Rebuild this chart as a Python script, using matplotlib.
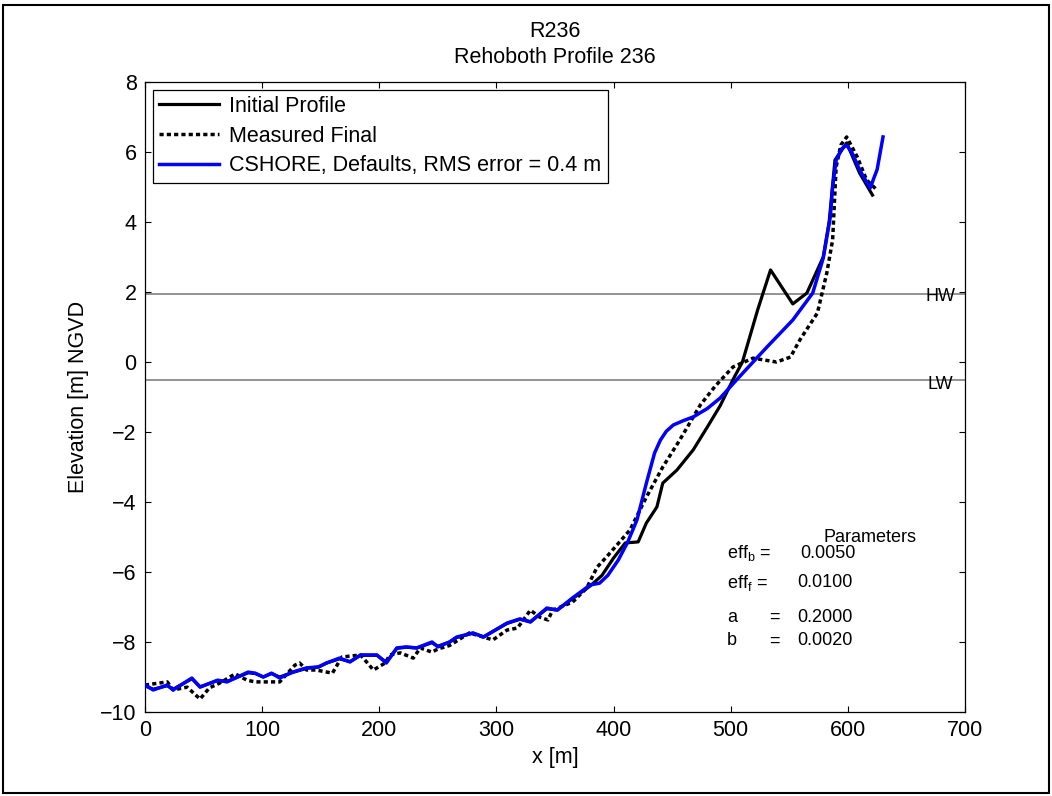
import matplotlib
matplotlib.use("Agg")
import matplotlib.pyplot as plt
from matplotlib.patches import Rectangle

plt.rcParams['font.family'] = ['Liberation Sans', 'DejaVu Sans']

# initial profile (lower part lies under the model line)
x_init = [0, 7, 19, 24, 40, 47, 62, 70, 88, 94, 101, 108, 115, 126, 138, 148, 155, 166, 175, 184,
          198, 206, 215, 223, 232, 245, 250, 260, 266, 280, 289, 309, 320, 329, 343, 352, 365, 380,
          390, 400, 410, 421, 428, 437, 442, 454, 468, 480, 491, 502, 510, 523, 534, 553, 565,
          579, 584, 589, 599, 610, 621]
z_init = [-9.25, -9.35, -9.25, -9.35, -9.05, -9.28, -9.1, -9.13, -8.88, -8.9, -9.0, -8.9, -9.0,
          -8.87, -8.75, -8.72, -8.6, -8.48, -8.56, -8.38, -8.38, -8.58, -8.18, -8.15, -8.17, -8.02,
          -8.12, -8.0, -7.87, -7.75, -7.85, -7.47, -7.35, -7.42, -7.05, -7.08, -6.76, -6.4, -6.1,
          -5.6, -5.17, -5.14, -4.6, -4.14, -3.46, -3.09, -2.51, -1.86, -1.25, -0.5, 0.0, 1.49, 2.63,
          1.66, 1.97, 3.0, 4.0, 5.77, 6.26, 5.4, 4.77]

# measured final profile
x_meas = [0, 19, 24, 36, 47, 55, 64, 77, 87, 94, 115, 128, 132, 138, 146, 160, 168, 184, 195, 205,
          209, 218, 229, 235, 245, 250, 260, 277, 297, 309, 318, 329, 337, 344, 348, 365, 377, 386,
          394, 414, 428, 442, 455, 463, 468, 474, 487, 502, 519, 539, 551, 559, 574, 582, 587, 590,
          594, 599, 608, 616, 625]
z_meas = [-9.23, -9.14, -9.37, -9.29, -9.63, -9.31, -9.17, -8.91, -9.09, -9.14, -9.14, -8.66, -8.6,
          -8.8, -8.8, -8.89, -8.43, -8.37, -8.8, -8.6, -8.37, -8.31, -8.46, -8.17, -8.29, -8.2, -8.1,
          -7.74, -7.94, -7.66, -7.6, -7.09, -7.29, -7.37, -7.09, -6.86, -6.46, -5.86, -5.57, -4.8,
          -3.86, -3.0, -2.31, -1.86, -1.57, -1.23, -0.68, -0.14, 0.11, 0.0, 0.14, 0.63, 1.4, 2.54,
          3.49, 5.57, 6.2, 6.43, 5.86, 5.2, 4.91]

# CSHORE model
x_cs = [0, 7, 19, 24, 40, 47, 62, 70, 88, 94, 101, 108, 115, 126, 138, 148, 155, 166, 175, 184,
        198, 206, 215, 223, 232, 245, 250, 260, 266, 280, 289, 309, 320, 329, 343, 352, 365, 380,
        388, 395, 404, 412, 420, 428, 435, 440, 445, 451, 460, 468, 480, 491, 505, 531, 553, 570,
        579, 585, 587, 590, 595, 599, 604, 610, 619, 625, 630]
z_cs = [-9.23, -9.37, -9.23, -9.37, -9.03, -9.29, -9.09, -9.14, -8.86, -8.89, -9.0, -8.89, -9.03,
        -8.86, -8.74, -8.71, -8.6, -8.46, -8.57, -8.37, -8.37, -8.6, -8.17, -8.14, -8.17, -8.0, -8.14,
        -8.0, -7.86, -7.74, -7.86, -7.46, -7.34, -7.43, -7.03, -7.09, -6.74, -6.37, -6.32, -6.1,
        -5.66, -5.15, -4.51, -3.46, -2.6, -2.23, -1.98, -1.8, -1.67, -1.57, -1.33, -1.03, -0.51,
        0.43, 1.2, 1.97, 2.97, 4.14, 5.0, 5.77, 6.1, 6.2, 5.95, 5.49, 4.97, 5.5, 6.43]

hw = 1.95
lw_level = -0.5

fig = plt.figure(figsize=(10.52, 7.96), dpi=100)
ax = fig.add_axes([145/1052, 1-712/796, 820/1052, 630/796])

ax.axhline(hw, color='#808080', lw=1.2, zorder=1)
ax.axhline(lw_level, color='#808080', lw=1.2, zorder=1)

ax.plot(x_init, z_init, color='black', lw=2.3, label='Initial Profile', zorder=3)
ax.plot(x_meas, z_meas, color='black', lw=2.5, linestyle=(0, (1.2, 0.9)),
        label='Measured Final', zorder=4)
ax.plot(x_cs, z_cs, color='#0000ff', lw=2.5, label='CSHORE, Defaults, RMS error = 0.4 m', zorder=5)

ax.set_xlim(0, 700)
ax.set_ylim(-10, 8)
ax.set_xticks(range(0, 701, 100))
ax.set_yticks(range(-10, 9, 2))
ax.tick_params(direction='in', length=4, top=True, right=True, labelsize=15.5, pad=6)
for s in ax.spines.values():
    s.set_linewidth(0.9)

ax.set_xlabel('x [m]', fontsize=15.5, labelpad=4)
ax.set_ylabel('Elevation [m] NGVD', fontsize=15.5, labelpad=8)
ax.set_title('R236\nRehoboth Profile 236', fontsize=15.5, linespacing=1.3, pad=14)

ax.text(679, 1.86, 'HW', fontsize=13, ha='center', va='center')
ax.text(679, -0.63, 'LW', fontsize=13, ha='center', va='center')

ax.text(619, -5.0, 'Parameters', fontsize=13, ha='center', va='center')
ax.text(497, -5.46, r'eff$_\mathregular{b}$ =', fontsize=13, ha='left', va='center')
ax.text(559, -5.46, '0.0050', fontsize=13, ha='left', va='center')
ax.text(497, -6.31, r'eff$_\mathregular{f}$ =', fontsize=13, ha='left', va='center')
ax.text(557, -6.31, '0.0100', fontsize=13, ha='left', va='center')
ax.text(497, -7.29, 'a', fontsize=13, ha='left', va='center')
ax.text(533, -7.29, '=', fontsize=13, ha='left', va='center')
ax.text(557, -7.29, '0.2000', fontsize=13, ha='left', va='center')
ax.text(497, -7.97, 'b', fontsize=13, ha='left', va='center')
ax.text(533, -7.97, '=', fontsize=13, ha='left', va='center')
ax.text(557, -7.97, '0.0020', fontsize=13, ha='left', va='center')

leg = ax.legend(loc='upper left', fontsize=15.5, fancybox=False, framealpha=1,
                edgecolor='black', handlelength=2.8, handletextpad=0.45,
                labelspacing=0.4, borderaxespad=0.35, borderpad=0.3)
leg.get_frame().set_linewidth(0.9)

fig.patches.append(Rectangle((3/1052, 3/796), 1046/1052, 788/796, transform=fig.transFigure,
                             fill=False, edgecolor='black', lw=1.5))

fig.savefig('out.png', dpi=100)
